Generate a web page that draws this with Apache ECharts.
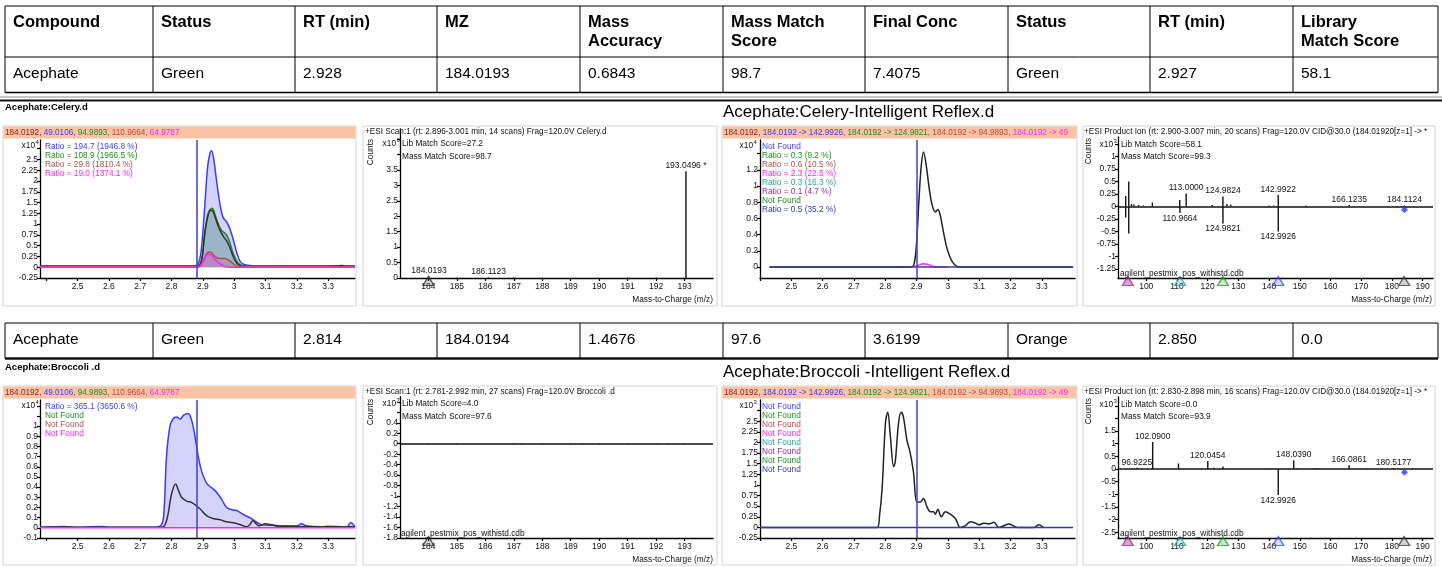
<!DOCTYPE html>
<html>
<head>
<meta charset="utf-8">
<script src="https://cdn.jsdelivr.net/npm/echarts@6.0.0/dist/echarts.min.js"></script>
<style>html,body{margin:0;padding:0;background:#fff;}#chart{width:1442px;height:567px;}</style>
</head>
<body>
<div id="chart"></div>
<script>
// ================= DATA =================
const tableHeaders = ['Compound','Status','RT (min)','MZ','Mass\nAccuracy','Mass Match\nScore','Final Conc','Status','RT (min)','Library\nMatch Score'];
const celeryRow   = ['Acephate','Green','2.928','184.0193','0.6843','98.7','7.4075','Green','2.927','58.1'];
const broccoliRow = ['Acephate','Green','2.814','184.0194','1.4676','97.6','3.6199','Orange','2.850','0.0'];

const smallTitles = ['Acephate:Celery.d','Acephate:Broccoli .d'];
const bigTitles = ['Acephate:Celery-Intelligent Reflex.d','Acephate:Broccoli -Intelligent Reflex.d'];

const eicIons = ['184.0192','49.0106','94.9893','110.9664','64.9787'];
const irIons  = ['184.0192','184.0192 -> 142.9926','184.0192 -> 124.9821','184.0192 -> 94.9893','184.0192 -> 49'];

const celeryEicLegend   = ['Ratio = 194.7 (1946.8 %)','Ratio = 108.9 (1966.5 %)','Ratio = 29.8 (1810.4 %)','Ratio = 19.0 (1374.1 %)'];
const celeryIrLegend    = ['Not Found','Ratio = 0.3 (9.2 %)','Ratio = 0.6 (10.5 %)','Ratio = 2.3 (22.5 %)','Ratio = 0.3 (16.3 %)','Ratio = 0.1 (4.7 %)','Not Found','Ratio = 0.5 (35.2 %)'];
const broccoliEicLegend = ['Ratio = 365.1 (3650.6 %)','Not Found','Not Found','Not Found'];
const broccoliIrLegend  = ['Not Found','Not Found','Not Found','Not Found','Not Found','Not Found','Not Found','Not Found'];

const specTitles = [
  '+ESI Scan:1 (rt: 2.896-3.001 min, 14 scans) Frag=120.0V Celery.d',
  '+ESI Product Ion (rt: 2.900-3.007 min, 20 scans) Frag=120.0V CID@30.0 (184.01920[z=1] -> *',
  '+ESI Scan:1 (rt: 2.781-2.992 min, 27 scans) Frag=120.0V Broccoli .d',
  '+ESI Product Ion (rt: 2.830-2.898 min, 16 scans) Frag=120.0V CID@30.0 (184.01920[z=1] -> *'
];
const specScores = [
  ['Lib Match Score=27.2','Mass Match Score=98.7'],
  ['Lib Match Score=58.1','Mass Match Score=99.3'],
  ['Lib Match Score=4.0','Mass Match Score=97.6'],
  ['Lib Match Score=0.0','Mass Match Score=93.9']
];
const libName = 'agilent_pestmix_pos_withistd.cdb';
const mzAxisName = 'Mass-to-Charge (m/z)';
const yExponents = ['4','6','4','3','4','7','3','3'];

// chromatograms (x = RT min, y = counts in axis units)
const celeryEicBlue = [[2.38,0.02],[2.5,0.02],[2.6,0.025],[2.7,0.02],[2.8,0.02],[2.87,0.03],[2.885,0.08],[2.895,0.4],[2.905,1.3],[2.915,2.3],[2.922,2.62],[2.928,2.7],[2.935,2.5],[2.944,2.0],[2.955,1.45],[2.965,1.15],[2.976,1.05],[2.986,0.9],[2.997,0.65],[3.008,0.35],[3.018,0.15],[3.03,0.07],[3.06,0.03],[3.1,0.02],[3.2,0.02],[3.386,0.02]];
const celeryEicGreen = [[2.38,0.02],[2.88,0.02],[2.895,0.15],[2.905,0.75],[2.915,1.2],[2.922,1.33],[2.93,1.37],[2.94,1.2],[2.95,1.0],[2.96,0.85],[2.975,0.76],[2.985,0.6],[2.997,0.32],[3.01,0.12],[3.025,0.04],[3.05,0.02],[3.386,0.02]];
const celeryEicDark = [[2.38,0.02],[2.88,0.02],[2.895,0.12],[2.905,0.7],[2.915,1.15],[2.925,1.32],[2.932,1.3],[2.942,1.1],[2.952,0.9],[2.965,0.72],[2.975,0.62],[2.985,0.48],[2.997,0.25],[3.01,0.08],[3.025,0.03],[3.05,0.02],[3.3,0.02],[3.345,0.04],[3.36,0.02],[3.386,0.02]];
const celeryEicBrown = [[2.38,0.01],[2.885,0.01],[2.9,0.12],[2.91,0.28],[2.92,0.36],[2.93,0.32],[2.94,0.24],[2.955,0.2],[2.97,0.2],[2.985,0.15],[2.997,0.08],[3.01,0.02],[3.386,0.01]];
const celeryEicMagenta = [[2.38,0],[2.885,0],[2.9,0.12],[2.91,0.26],[2.92,0.3],[2.93,0.26],[2.94,0.17],[2.955,0.08],[2.97,0.02],[2.985,0],[3.386,0]];
const celeryCursorRT = 2.885;

const celeryIrTIC = [[2.43,0],[2.885,0],[2.893,0.05],[2.9,0.3],[2.908,0.85],[2.915,1.25],[2.922,1.42],[2.93,1.28],[2.94,0.98],[2.95,0.76],[2.96,0.68],[2.968,0.71],[2.975,0.65],[2.985,0.45],[2.995,0.26],[3.005,0.14],[3.015,0.06],[3.027,0.01],[3.04,0],[3.4,0]];
const celeryIrMagenta = [[2.88,0],[2.905,0.02],[2.92,0.04],[2.935,0.035],[2.95,0.01],[2.97,0],[3.0,0]];
const celeryIrBase = [[2.43,0],[3.4,0]];
const celeryIrCursorRT = 2.9;

const broccoliEicBlue = [[2.38,0.005],[2.46,0.012],[2.48,0.005],[2.58,0.012],[2.6,0.005],[2.74,0.005],[2.765,0.02],[2.775,0.12],[2.784,0.7],[2.795,1.0],[2.805,1.07],[2.816,1.09],[2.827,1.07],[2.84,1.11],[2.853,1.125],[2.862,1.08],[2.869,1.0],[2.877,0.86],[2.885,0.71],[2.896,0.56],[2.912,0.44],[2.93,0.39],[2.944,0.35],[2.96,0.28],[2.976,0.2],[2.99,0.18],[3.008,0.17],[3.03,0.13],[3.05,0.1],[3.07,0.06],[3.09,0.03],[3.12,0.025],[3.16,0.02],[3.2,0.02],[3.215,0.04],[3.23,0.02],[3.28,0.01],[3.3,0.015],[3.36,0.01],[3.372,0.05],[3.386,0.01]];
const broccoliEicDark = [[2.38,0.005],[2.46,0.01],[2.5,0.005],[2.77,0.005],[2.785,0.08],[2.8,0.33],[2.813,0.43],[2.822,0.37],[2.832,0.3],[2.85,0.26],[2.864,0.25],[2.89,0.19],[2.905,0.14],[2.917,0.11],[2.935,0.09],[2.955,0.08],[2.975,0.06],[2.997,0.05],[3.02,0.03],[3.04,0.01],[3.05,0.03],[3.06,0.07],[3.07,0.04],[3.08,0.02],[3.1,0.04],[3.12,0.03],[3.15,0.01],[3.386,0.01]];
const broccoliEicMagenta = [[2.38,0],[3.386,0]];
const broccoliCursorRT = 2.885;

const broccoliIrTIC = [[2.4,0],[2.774,0],[2.782,0.3],[2.79,0.92],[2.801,2.49],[2.808,2.71],[2.816,2.17],[2.827,1.43],[2.832,1.55],[2.843,2.49],[2.851,2.71],[2.858,2.6],[2.869,2.06],[2.879,1.78],[2.89,1.31],[2.901,0.6],[2.912,0.6],[2.922,0.68],[2.933,0.49],[2.944,0.37],[2.954,0.37],[2.96,0.31],[2.968,0.43],[2.979,0.25],[2.992,0.37],[3.008,0.31],[3.024,0.21],[3.04,0],[3.056,0.04],[3.072,0.13],[3.088,0.1],[3.099,0.06],[3.115,0.1],[3.131,0.08],[3.147,0.12],[3.163,0],[3.195,0.08],[3.222,0],[3.276,0],[3.29,0.06],[3.305,0]];
const broccoliIrBase = [[2.4,0],[3.4,0]];
const broccoliIrCursorRT = 2.9;

// spectra
const celeryMsMz    = [184.0193,185.0,186.1123,187.0,188.0,189.0,190.0,191.0,192.0,193.0496];
const celeryMsInt   = [0.05,0.015,0.02,0.015,0.012,0.012,0.012,0.012,0.015,3.46];
const celeryMsLabel = ['184.0193','','186.1123','','','','','','','193.0496 *'];

const celeryMsmsMz    = [93.3,94.3,95.2,96.0,97.5,99.0,102.0,110.9,113.0,121.5,124.9824,126.3,127.5,140.0,141.5,142.9922,152.0,166.1235,184.1124,93.3,94.3,110.9664,124.9821,142.9926];
const celeryMsmsInt   = [0.21,0.5,0.05,0.04,0.03,0.02,0.08,0.13,0.26,0.03,0.2,0.05,0.04,0.02,0.02,0.23,0.02,0.03,0.02,-0.22,-0.54,-0.13,-0.34,-0.5];
const celeryMsmsLabel = ['','','','','','','','','113.0000','','124.9824','','','','','142.9922','','166.1235','184.1124','','','110.9664','124.9821','142.9926'];

const broccoliMsMz  = [184.0,185.0,186.0,187.0,187.3,188.0,189.0,189.4,190.0,191.0,192.0,192.4,193.0];
const broccoliMsInt = [0.01,0.008,0.01,0.012,0.01,0.01,0.01,0.008,0.008,0.01,0.01,0.008,0.008];

const broccoliMsmsMz    = [96.9225,102.09,110.5,120.0454,122.0,125.0,140.5,148.039,149.0,155.0,156.0,166.0861,172.0,180.5177,142.9926];
const broccoliMsmsInt   = [0.05,1.07,0.22,0.32,0.05,0.1,0.02,0.35,0.03,0.04,0.03,0.15,0.02,0.04,-1.03];
const broccoliMsmsLabel = ['96.9225','102.0900','','120.0454','','','','148.0390','','','','166.0861','','180.5177','142.9926'];

const precursorMz = [184.0];
const libFragmentMz = [94.0,111.0,125.0,143.0,184.0];
const celeryAcqMarker = [[184.1124,-0.066]];
const broccoliAcqMarker = [[184.1124,-0.13]];

// axis ticks / labels
const rtTicks = [2.4,2.5,2.6,2.7,2.8,2.9,3.0,3.1,3.2,3.3];
const rtLabels = [2.5,2.6,2.7,2.8,2.9,3.0,3.1,3.2,3.3];
const msTicks = [184,185,186,187,188,189,190,191,192,193];
const msmsTicks = [100,110,120,130,140,150,160,170,180,190];
const yTicks = [
  [-0.25,0,0.25,0.5,0.75,1,1.25,1.5,1.75,2,2.25,2.5,2.75],
  [0,0.5,1,1.5,2,2.5,3,3.5,4,4.5],
  [0,0.2,0.4,0.6,0.8,1,1.2,1.4],
  [-1.25,-1,-0.75,-0.5,-0.25,0,0.25,0.5,0.75,1,1.25],
  [-0.1,0,0.1,0.2,0.3,0.4,0.5,0.6,0.7,0.8,0.9,1,1.1,1.2],
  [-1.8,-1.6,-1.4,-1.2,-1,-0.8,-0.6,-0.4,-0.2,0,0.2,0.4,0.6,0.8],
  [-0.25,0,0.25,0.5,0.75,1,1.25,1.5,1.75,2,2.25,2.5,2.75],
  [-2.5,-2,-1.5,-1,-0.5,0,0.5,1,1.5,2,2.5]
];
const yLabels = [
  [-0.25,0,0.25,0.5,0.75,1,1.25,1.5,1.75,2,2.25,2.5],
  [0,0.5,1,1.5,2,2.5,3,3.5],
  [0,0.2,0.4,0.6,0.8,1,1.2],
  [-1.25,-1,-0.75,-0.5,-0.25,0,0.25,0.5,0.75,1],
  [-0.1,0,0.1,0.2,0.3,0.4,0.5,0.6,0.7,0.8,0.9,1],
  [-1.8,-1.6,-1.4,-1.2,-1,-0.8,-0.6,-0.4,-0.2,0,0.2,0.4],
  [-0.25,0,0.25,0.5,0.75,1,1.25,1.5,1.75,2,2.25,2.5],
  [-2.5,-2,-1.5,-1,-0.5,0,0.5,1,1.5]
];

// ================= STYLE / LAYOUT =================
const FONT = 'Liberation Sans';
const C = {blue:'#3a3aff', green:'#218c21', brown:'#b0504a', magenta:'#ff22ff', teal:'#2aa0a0', purple:'#9a2e9a', navy:'#3a3a9a', dark:'#2a2a2a', cursor:'#4a4ac8'};
const eicLegendColors = [C.blue, C.green, C.brown, C.magenta];
const irLegendColors = [C.blue, C.green, C.brown, C.magenta, C.teal, C.purple, C.green, C.navy];
const bandColors = ['#8a1c1c', C.blue, C.green, '#c0483a', C.magenta];
const triStroke = ['#a0309a','#2aa0a0','#2a9a2a','#3a4aff','#404040'];
const triFill = ['rgba(160,48,154,0.55)','rgba(42,160,160,0.3)','rgba(42,154,42,0.3)','rgba(58,74,255,0.25)','rgba(64,64,64,0.3)'];
const TXT = '#111';

const grids = [
  {left:40,   top:140,   width:315, height:138},
  {left:400,  top:129,   width:313, height:149},
  {left:760,  top:140,   width:315, height:138},
  {left:1118, top:137,   width:315, height:141},
  {left:40,   top:400,   width:315, height:138},
  {left:400,  top:396.6, width:313, height:141.4},
  {left:760,  top:400,   width:315, height:138},
  {left:1118, top:397,   width:315, height:141}
];
const xRange = [[2.38,3.386],[183,194],[2.4,3.406],[90.8,193.4],[2.38,3.386],[183,194],[2.4,3.406],[90.8,193.4]];
const xTickSets = [rtTicks, msTicks, rtTicks, msmsTicks, rtTicks, msTicks, rtTicks, msmsTicks];
const xLabelSets = [rtLabels, msTicks, rtLabels, msmsTicks, rtLabels, msTicks, rtLabels, msmsTicks];
const yRange = [[-0.25,2.95],[0,4.83],[-0.136,1.568],[-1.43,1.39],[-0.1,1.257],[-1.8,0.9],[-0.25,3.0],[-2.73,2.85]];

const fmt = v => String(Math.round(v * 1000) / 1000);

const xAxes = grids.map((g, i) => ({
  type:'value', gridIndex:i, min:xRange[i][0], max:xRange[i][1],
  splitLine:{show:false},
  axisLine:{onZero:false, lineStyle:{color:'#000', width:1.3}},
  axisTick:{customValues:xTickSets[i], length:3, lineStyle:{color:'#000', width:1.2}},
  axisLabel:{customValues:xLabelSets[i], fontSize:8.5, color:TXT, fontFamily:FONT, margin:4, formatter:fmt}
}));
const yAxes = grids.map((g, i) => ({
  type:'value', gridIndex:i, min:yRange[i][0], max:yRange[i][1],
  splitLine:{show:false},
  axisLine:{onZero:false, lineStyle:{color:'#000', width:1.3}},
  axisTick:{customValues:yTicks[i], length:3, lineStyle:{color:'#000', width:1.2}},
  axisLabel:{customValues:yLabels[i], fontSize:8.5, color:TXT, fontFamily:FONT, margin:2, formatter:fmt}
}));

function lineS(i, data, color, area, extra) {
  const s = {type:'line', xAxisIndex:i, yAxisIndex:i, data, smooth:0.35, showSymbol:false, symbol:'none',
    lineStyle:{color, width:1.5}, itemStyle:{color}, z:3};
  if (area) s.areaStyle = {color:area, origin:'auto'};
  return Object.assign(s, extra || {});
}
function cursor(x) {
  return {silent:true, symbol:['none','none'], label:{show:false}, lineStyle:{color:C.cursor, width:1.6, type:'solid'}, data:[{xAxis:x}]};
}
function zeroLine() {
  return {silent:true, symbol:['none','none'], label:{show:false}, lineStyle:{color:'#111', width:1.6, type:'solid'}, data:[{yAxis:0}]};
}
function barS(i, mz, inten, labels, withZero) {
  const s = {type:'bar', xAxisIndex:i, yAxisIndex:i, barWidth:1.4, itemStyle:{color:'#111'},
    label:{fontSize:8.5, color:TXT, fontFamily:FONT, distance:1},
    data: mz.map((m, k) => ({value:[m, inten[k]],
      label: (labels && labels[k]) ? {show:true, formatter:labels[k], position: inten[k] >= 0 ? 'top' : 'bottom'} : {show:false}})),
    z:3};
  if (withZero) s.markLine = zeroLine();
  return s;
}
function triS(i, mzs, strokes, fills) {
  return {type:'scatter', xAxisIndex:i, yAxisIndex:i, symbol:'triangle', symbolSize:[11,9], symbolOffset:[0,3], clip:false, z:5,
    data: mzs.map((m, k) => ({value:[m, yRange[i][0]], itemStyle:{color:fills[k], borderColor:strokes[k], borderWidth:1.3}}))};
}
function diamondS(i, pts) {
  return {type:'scatter', xAxisIndex:i, yAxisIndex:i, symbol:'diamond', symbolSize:7, z:5, itemStyle:{color:'#2a3aff'}, data:pts};
}

const series = [
  lineS(0, celeryEicBlue, C.blue, 'rgba(110,110,240,0.42)', {markLine:cursor(celeryCursorRT)}),
  lineS(0, celeryEicGreen, C.green, 'rgba(40,110,90,0.45)'),
  lineS(0, celeryEicDark, '#333', null),
  lineS(0, celeryEicBrown, C.brown, 'rgba(200,90,90,0.35)'),
  lineS(0, celeryEicMagenta, C.magenta, 'rgba(255,60,255,0.25)'),
  barS(1, celeryMsMz, celeryMsInt, celeryMsLabel, false),
  triS(1, precursorMz, ['#333'], ['rgba(90,90,90,0.35)']),
  lineS(2, celeryIrTIC, '#222', null, {markLine:cursor(celeryIrCursorRT)}),
  lineS(2, celeryIrMagenta, C.magenta, null),
  lineS(2, celeryIrBase, C.navy, null),
  barS(3, celeryMsmsMz, celeryMsmsInt, celeryMsmsLabel, true),
  triS(3, libFragmentMz, triStroke, triFill),
  diamondS(3, celeryAcqMarker),
  lineS(4, broccoliEicBlue, C.blue, 'rgba(110,110,240,0.42)', {markLine:cursor(broccoliCursorRT)}),
  lineS(4, broccoliEicDark, '#333', null),
  lineS(4, broccoliEicMagenta, C.magenta, null),
  barS(5, broccoliMsMz, broccoliMsInt, null, true),
  triS(5, precursorMz, ['#333'], ['rgba(90,90,90,0.35)']),
  lineS(6, broccoliIrTIC, '#222', null, {markLine:cursor(broccoliIrCursorRT)}),
  lineS(6, broccoliIrBase, C.navy, null),
  barS(7, broccoliMsmsMz, broccoliMsmsInt, broccoliMsmsLabel, true),
  triS(7, libFragmentMz, triStroke, triFill),
  diamondS(7, broccoliAcqMarker)
];

// ================= GRAPHICS (tables, frames, texts) =================
const g = [];
function txt(x, y, text, o) {
  g.push({type:'text', x, y, z:100, silent:true,
    style:Object.assign({text, fill:TXT, fontSize:8, fontFamily:FONT, align:'left', verticalAlign:'middle'}, o || {})});
}
function ln(x1, y1, x2, y2, stroke, w) {
  g.push({type:'line', z:60, silent:true, shape:{x1, y1, x2, y2}, style:{stroke:stroke || '#000', lineWidth:w || 1}});
}
function box(x, y, w, h, style, z) {
  g.push({type:'rect', z:z || 1, silent:true, shape:{x, y, width:w, height:h}, style});
}

const colX = [5,153,295,437,580,723,865,1008,1150,1293,1438];
ln(5, 6, 1438, 6); ln(5, 57, 1438, 57); ln(5, 92.5, 1438, 92.5, '#000', 1.5);
colX.forEach(x => ln(x, 6, x, 92.5));
tableHeaders.forEach((h, i) => txt(colX[i] + 8, 12.5, h, {fontSize:16.5, fontWeight:'bold', fill:'#000', verticalAlign:'top', lineHeight:19.5}));
celeryRow.forEach((v, i) => txt(colX[i] + 8, 74, v, {fontSize:15.5, fill:'#000'}));
ln(0, 97, 1442, 97, '#c8c8c8', 2);
ln(0, 100.5, 1442, 100.5, '#111', 2.2);
ln(5, 323, 1438, 323); ln(5, 358.5, 1438, 358.5, '#111', 2.5);
colX.forEach(x => ln(x, 323, x, 358.5));
broccoliRow.forEach((v, i) => txt(colX[i] + 8, 340, v, {fontSize:15.5, fill:'#000'}));

const rows = [0, 260];
const legends = [[celeryEicLegend, celeryIrLegend], [broccoliEicLegend, broccoliIrLegend]];
rows.forEach((dy, r) => {
  txt(5, 107 + dy, smallTitles[r], {fontSize:9.5, fontWeight:'bold', fill:'#000'});
  txt(723, 112 + dy, bigTitles[r], {fontSize:17, fill:'#000'});
  const fh = r === 0 ? 180 : 179;
  box(3, 126 + dy, 353, fh, {fill:'none', stroke:'#d4d4d4', lineWidth:1});
  box(363, 126 + dy, 354, fh, {fill:'none', stroke:'#d4d4d4', lineWidth:1});
  box(722, 126 + dy, 355, fh, {fill:'none', stroke:'#d4d4d4', lineWidth:1});
  box(1083, 126 + dy, 352, fh, {fill:'none', stroke:'#d4d4d4', lineWidth:1});
  box(3.5, 126.5 + dy, 352, 12, {fill:'#f9c4a6'}, 2);
  box(722.5, 126.5 + dy, 354, 12, {fill:'#f9c4a6'}, 2);
  const richE = {}; bandColors.forEach((c, k) => richE['c' + k] = {fill:c, fontSize:8.2, fontFamily:FONT});
  txt(5, 133 + dy, eicIons.map((t, k) => '{c' + k + '|' + t + (k < eicIons.length - 1 ? ',' : '') + '}').join(' '), {rich:richE});
  txt(724, 133 + dy, irIons.map((t, k) => '{c' + k + '|' + t + (k < irIons.length - 1 ? ',' : '') + '}').join(' '), {rich:richE});
  legends[r][0].forEach((t, k) => txt(45, 147 + dy + k * 8.9, t, {fill:eicLegendColors[k], fontSize:8.3}));
  legends[r][1].forEach((t, k) => txt(762, 147 + dy + k * 8.9, t, {fill:irLegendColors[k], fontSize:8.3}));
  txt(365, 132 + dy, specTitles[r * 2], {fontSize:8.2});
  txt(1084, 132 + dy, specTitles[r * 2 + 1], {fontSize:8.2});
  txt(402, 143.5 + dy, specScores[r * 2][0], {fontSize:8.3});
  txt(402, 156.5 + dy, specScores[r * 2][1], {fontSize:8.3});
  txt(1121, 144.5 + dy, specScores[r * 2 + 1][0], {fontSize:8.3});
  txt(1121, 156.5 + dy, specScores[r * 2 + 1][1], {fontSize:8.3});
  txt(713, 300 + dy, mzAxisName, {align:'right', fontSize:8.3});
  txt(1432, 300 + dy, mzAxisName, {align:'right', fontSize:8.3});
  g.push({type:'text', x:371, y:152 + dy, rotation:Math.PI / 2, z:100, silent:true, style:{text:'Counts', fill:TXT, fontSize:8.3, fontFamily:FONT, align:'center', verticalAlign:'middle'}});
  g.push({type:'text', x:1089, y:151 + dy, rotation:Math.PI / 2, z:100, silent:true, style:{text:'Counts', fill:TXT, fontSize:8.3, fontFamily:FONT, align:'center', verticalAlign:'middle'}});
  if (r === 1) txt(401, 533.5, libName, {fontSize:8.3});
  txt(1120, (r === 0 ? 274 : 534), libName, {fontSize:8.3});
});
const expPos = [[35,146],[396,143.5],[753,146],[1113,145],[35,406],[396,404],[753,406],[1113,405]];
expPos.forEach((p, i) => {
  txt(p[0], p[1], 'x10', {align:'right', fontSize:8.3});
  txt(p[0] + 0.5, p[1] - 3.5, yExponents[i], {fontSize:6});
});

const option = {
  animation:false,
  backgroundColor:'#fff',
  textStyle:{fontFamily:FONT},
  grid: grids.map(gr => Object.assign({show:false, containLabel:false}, gr)),
  xAxis: xAxes,
  yAxis: yAxes,
  series,
  graphic: {elements: g}
};
const chart = echarts.init(document.getElementById('chart'), null, {renderer:'canvas'});
chart.setOption(option);
</script>
</body>
</html>
